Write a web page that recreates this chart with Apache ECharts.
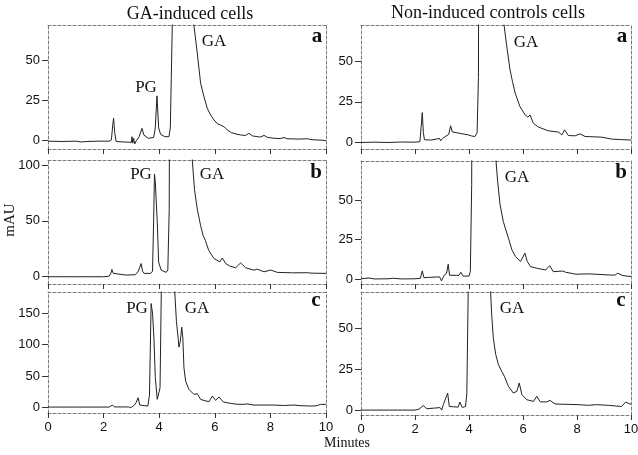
<!DOCTYPE html>
<html><head><meta charset="utf-8">
<script src="https://cdn.jsdelivr.net/npm/echarts@6/dist/echarts.min.js"></script>
<style>html,body{margin:0;padding:0;background:#fff}#c{width:638px;height:455px}</style>
</head><body><div id="c"></div>
<script>
// ---- DATA (minutes, mAU) ----
const xTickValues = [0, 2, 4, 6, 8, 10];
const yTicksLeftA = [0, 25, 50];
const yTicksLeftB = [0, 50, 100];
const yTicksLeftC = [0, 50, 100, 150];
const yTicksRight = [0, 25, 50];

// GA-induced cells, panel a
const indA_x = [0,0.5,1.0,1.2,1.4,1.8,2.2,2.28,2.33,2.36,2.40,2.45,2.7,3.0,3.02,3.05,3.08,3.12,3.18,3.28,3.38,3.45,3.6,3.8,3.86,3.92,3.98,4.05,4.2,4.35,4.40,4.47,4.6,4.9,5.05,5.15,5.25,5.37,5.49,5.61,5.73,5.85,5.97,6.1,6.21,6.27,6.35,6.45,6.6,6.8,6.93,7.1,7.23,7.35,7.53,7.65,7.77,7.9,8.13,8.35,8.49,8.6,9.0,9.33,9.5,9.87,10];
const indA_y = [-0.3,-0.5,-0.3,-0.8,-0.5,-0.3,-0.3,0.5,10,14,5,-0.5,-0.8,-1,2.5,-1.5,1.5,-2,0,2.5,7.7,3.5,1.5,2,8,28,8,4,2.5,2.5,8,72,500,500,150,100,72,54.6,35.9,27.5,20.2,16,13,10.5,9.8,10.9,8.5,6.7,5,4,3.6,3.2,4.6,3,2.5,2.3,3.3,2,1.5,1.3,2,1.2,1,1.2,0.6,0.3,0];
// GA-induced cells, panel b
const indB_x = [0,0.5,1,1.5,2.0,2.2,2.26,2.30,2.35,2.42,2.8,3.14,3.25,3.30,3.35,3.40,3.45,3.69,3.76,3.80,3.83,3.86,3.93,3.98,4.07,4.25,4.31,4.36,4.42,4.9,5.10,5.19,5.27,5.37,5.49,5.58,5.66,5.78,5.97,6.18,6.27,6.39,6.55,6.75,6.93,7.11,7.41,7.53,7.77,8.01,8.25,8.8,9.33,9.39,9.5,10];
const indB_y = [0,0,0,0,0,0.5,3,6.5,3,1.5,1.5,1.8,5,6,11.8,5,3,3,5,50,92,85,48.7,13,6,3.9,6,60,500,500,140,104.5,78,60.5,45.7,36.9,32.5,23.6,16.3,13.3,16.8,11.8,9.5,8,12.4,8,5.9,6.8,4.4,6,3.9,3.5,3.6,4.4,3.2,3];
// GA-induced cells, panel c
const indC_x = [0,1,2.2,2.31,2.4,2.9,2.98,3.08,3.17,3.24,3.30,3.59,3.65,3.71,3.76,3.81,3.86,3.93,3.98,4.03,4.08,4.15,4.45,4.52,4.56,4.62,4.68,4.71,4.76,4.81,4.85,4.89,4.95,5.07,5.25,5.37,5.49,5.65,5.79,5.91,6.03,6.15,6.31,6.57,6.8,7.05,7.15,7.41,8.13,8.5,8.85,9.1,9.45,9.65,9.81,10];
const indC_y = [1,1,1,4,1.2,1.2,0,3,8,15.8,4.2,2.6,20,165,150,110.8,47.5,13.2,11.6,31.6,200,600,600,250,183,137,110.8,96,105.5,127.7,110.8,63.3,42.2,29,21,22.2,13.2,11,9.5,18.5,11.6,17,9,6.8,5.5,5.3,6,4.2,4.2,3.5,4.2,3.2,2.6,3,5.3,5.3];
// Non-induced control cells, panel a
const ctlA_x = [0,0.5,1.0,1.5,2.0,2.18,2.23,2.27,2.31,2.35,2.6,2.91,2.95,2.98,3.02,3.15,3.25,3.32,3.38,3.48,3.7,3.97,4.1,4.22,4.30,4.35,4.40,4.9,5.1,5.2,5.30,5.40,5.52,5.61,5.71,5.89,6.08,6.18,6.26,6.38,6.57,6.94,7.31,7.44,7.54,7.68,7.93,8.11,8.30,8.6,8.91,9.28,9.6,10];
const ctlA_y = [0,0.2,0,0.3,0.2,0.5,10,18.4,6,1.7,1.5,2.5,1,0.3,2.5,4,5,10.3,6.5,6.2,5.5,4.7,4,3.7,6,40,500,500,130,90,72,59,44.7,37.5,30.4,22,17,15.6,17,11.9,9.5,7.2,6.4,4.7,7.8,4.3,4.1,5.3,3.7,3.5,3.3,2.1,1.8,1.5];
// Non-induced control cells, panel b
const ctlB_x = [0,0.3,0.5,1.0,1.2,1.5,2.0,2.2,2.27,2.33,2.5,2.91,2.98,3.08,3.17,3.23,3.28,3.63,3.70,3.78,4.0,4.05,4.10,4.15,4.7,4.9,5.0,5.06,5.15,5.27,5.40,5.46,5.59,5.72,5.91,6.07,6.16,6.28,6.55,6.84,6.99,7.12,7.30,7.47,7.59,7.96,8.46,9.2,9.4,9.51,9.7,10];
const ctlB_y = [0.3,0.8,0.2,0.3,0.6,0.2,0.3,0.6,5.3,1,1.2,1.5,-1,2.5,3.8,9.5,2.5,2.5,4.4,2,2,5,60,500,500,120,74.8,62,47.2,36.6,29.2,26,18.6,14.4,11.2,16.5,11.2,8,6.8,5.9,8.6,4.8,5,5.2,4.4,3.2,3.4,2.7,2.6,3.8,2.3,1.7];
// Non-induced control cells, panel c
const ctlC_x = [0,2.0,2.15,2.31,2.43,2.7,2.93,2.99,3.05,3.11,3.21,3.27,3.6,3.66,3.75,3.87,3.92,3.97,4.05,4.6,4.75,4.80,4.84,4.90,4.99,5.09,5.21,5.31,5.36,5.46,5.64,5.77,5.86,5.96,6.14,6.39,6.51,6.64,6.88,7.0,7.19,8.05,8.42,8.73,9.16,9.65,9.80,9.96,10];
const ctlC_y = [0,0,0.6,2.8,0.8,1.2,1.5,0,3.3,2.2,10.4,2.2,1.8,4.9,1.6,2.2,10,72,500,500,100,72,58.4,44,33.9,27.7,23.7,20.6,21.6,14.5,10.4,11.4,16.5,9.4,6.3,5.3,8.4,5,5,5.9,3.7,3.3,2.9,3.3,2.9,2.2,4.9,3.7,3.7];

// ---- LAYOUT ----
const SERIF = '"Liberation Serif","Times New Roman",serif';
const SANS = '"Liberation Sans",Arial,sans-serif';
const panels = [
  {xs: indA_x, ys: indA_y, left: 48, top: 25, width: 278, height: 124, ymin: -5.2, ymax: 72.3, yt: yTicksLeftA, xl: false},
  {xs: indB_x, ys: indB_y, left: 48, top: 160, width: 278, height: 124, ymin: -6.5, ymax: 104.5, yt: yTicksLeftB, xl: false},
  {xs: indC_x, ys: indC_y, left: 48, top: 292, width: 278, height: 121, ymin: -8.4, ymax: 183.4, yt: yTicksLeftC, xl: true},
  {xs: ctlA_x, ys: ctlA_y, left: 361, top: 25, width: 270, height: 124, ymin: -4.0, ymax: 72.3, yt: yTicksRight, xl: false},
  {xs: ctlB_x, ys: ctlB_y, left: 361, top: 161, width: 270, height: 123, ymin: -3.0, ymax: 74.8, yt: yTicksRight, xl: false},
  {xs: ctlC_x, ys: ctlC_y, left: 361, top: 292, width: 270, height: 123, ymin: -3.0, ymax: 72.0, yt: yTicksRight, xl: true}
];
const frameLine = {color: '#7a7a7a', width: 1, type: [3, 2]};
const grid = [], xAxis = [], yAxis = [], series = [];
panels.forEach((p, i) => {
  grid.push({left: p.left, top: p.top, width: p.width, height: p.height, containLabel: false, outerBoundsMode: 'none', show: false});
  xAxis.push({type: 'value', gridIndex: i, min: 0, max: 10, interval: 2, position: 'bottom',
    axisLine: {show: true, onZero: false, lineStyle: frameLine},
    axisTick: {show: true, length: 5, lineStyle: {color: '#333'}},
    axisLabel: {show: p.xl, margin: 8, fontFamily: SANS, fontSize: 13, color: '#111'},
    splitLine: {show: false}});
  xAxis.push({type: 'value', gridIndex: i, min: 0, max: 10, position: 'top',
    axisLine: {show: true, onZero: false, lineStyle: frameLine},
    axisTick: {show: false}, axisLabel: {show: false}, splitLine: {show: false}});
  yAxis.push({type: 'value', gridIndex: i, min: p.ymin, max: p.ymax, position: 'left',
    axisLine: {show: true, onZero: false, lineStyle: frameLine},
    axisTick: {show: true, length: 6, customValues: p.yt, lineStyle: {color: '#333'}},
    axisLabel: {show: true, customValues: p.yt, margin: 8, fontFamily: SANS, fontSize: 13, color: '#111'},
    splitLine: {show: false}});
  yAxis.push({type: 'value', gridIndex: i, min: p.ymin, max: p.ymax, position: 'right',
    axisLine: {show: true, onZero: false, lineStyle: frameLine},
    axisTick: {show: false}, axisLabel: {show: false}, splitLine: {show: false}});
  series.push({type: 'line', xAxisIndex: 2 * i, yAxisIndex: 2 * i, showSymbol: false, symbol: 'none',
    clip: true, animation: false, smooth: false,
    lineStyle: {color: '#222', width: 1},
    data: p.xs.map((x, k) => [x, p.ys[k]])});
});

function txt(text, x, y, size, opts) {
  return Object.assign({type: 'text', x: x, y: y, z: 100,
    style: {text: text, font: size + 'px ' + SERIF, fill: '#111', textAlign: 'center', textVerticalAlign: 'middle'}}, opts || {});
}
const graphic = [
  txt('GA-induced cells', 190, 14, 18),
  txt('Non-induced controls cells', 488, 13, 18),
  txt('Minutes', 347, 443, 14),
  Object.assign(txt('mAU', 10, 220, 15), {rotation: Math.PI / 2}),
  txt('PG', 146, 88, 17), txt('GA', 214, 42, 17),
  txt('GA', 526, 43, 17),
  txt('PG', 141, 175, 17), txt('GA', 212, 175, 17),
  txt('GA', 517, 178, 17),
  txt('PG', 137, 309, 17), txt('GA', 197, 309, 17),
  txt('GA', 512, 309, 17)
];
[['a', 317, 37], ['a', 622, 37], ['b', 316, 173], ['b', 621, 173], ['c', 316, 301], ['c', 621, 301]].forEach(t => {
  graphic.push({type: 'text', x: t[1], y: t[2], z: 100,
    style: {text: t[0], font: 'bold 21px ' + SERIF, fill: '#111', textAlign: 'center', textVerticalAlign: 'middle'}});
});

const chart = echarts.init(document.getElementById('c'), null, {renderer: 'canvas'});
chart.setOption({animation: false, backgroundColor: '#fff', grid, xAxis, yAxis, series, graphic});
</script></body></html>
